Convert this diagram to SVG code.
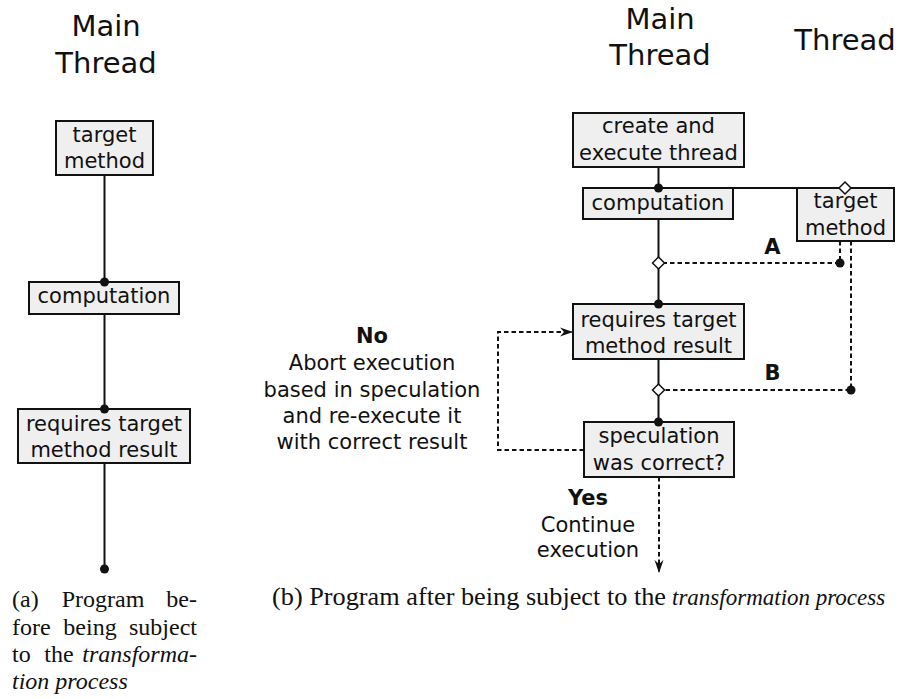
<svg xmlns="http://www.w3.org/2000/svg" width="899" height="699" viewBox="0 0 899 699">
  <defs>
    <style>
      .box { fill: #efefef; stroke: #111; stroke-width: 2; }
      .t { font-family: "DejaVu Sans", "Liberation Sans", sans-serif; font-size: 21px; fill: #111; text-anchor: middle; }
      .lbl { font-family: "DejaVu Sans", "Liberation Sans", sans-serif; font-size: 21px; font-weight: bold; fill: #111; text-anchor: middle; }
      .title { font-family: "DejaVu Sans", "Liberation Sans", sans-serif; font-size: 29px; fill: #111; text-anchor: middle; }
      .cap { font-family: "Liberation Serif", "DejaVu Serif", serif; font-size: 24px; fill: #111; }
      .capb { font-size: 25px; }
      .it { font-style: italic; }
      .mid { text-anchor: middle; }
      .end { text-anchor: end; }
      .solid { fill: none; stroke: #111; stroke-width: 2; }
      .dash { fill: none; stroke: #111; stroke-width: 2; stroke-dasharray: 4.5 3; }
      .dot { fill: #111; }
      .dia { fill: #fff; stroke: #111; stroke-width: 1.5; }
    </style>
    <marker id="arrow" markerUnits="userSpaceOnUse" markerWidth="16" markerHeight="12" refX="14" refY="6" orient="auto">
      <path d="M14,6 L1,1.5 L5,6 L1,10.5 Z" fill="#111"/>
    </marker>
  </defs>

  <!-- column titles -->
  <text class="title" x="106" y="36">Main</text>
  <text class="title" x="106" y="73">Thread</text>
  <text class="title" x="660" y="29">Main</text>
  <text class="title" x="660" y="65">Thread</text>
  <text class="title" x="845" y="50">Thread</text>

  <!-- (a) nodes -->
  <g id="a-target-method">
    <rect class="box" x="56" y="121" width="97" height="54"/>
    <text class="t" x="104.5" y="142">target</text>
    <text class="t" x="104.5" y="168">method</text>
  </g>
  <g id="a-computation">
    <rect class="box" x="29" y="282" width="150" height="32"/>
    <text class="t" x="104" y="303">computation</text>
  </g>
  <g id="a-requires">
    <rect class="box" x="18" y="409" width="172" height="54"/>
    <text class="t" x="104" y="430.5">requires target</text>
    <text class="t" x="104" y="456.5">method result</text>
  </g>

  <!-- (b) nodes -->
  <g id="b-create">
    <rect class="box" x="573" y="113" width="171" height="54"/>
    <text class="t" x="658.5" y="133">create and</text>
    <text class="t" x="658.5" y="160">execute thread</text>
  </g>
  <g id="b-computation">
    <rect class="box" x="583" y="188" width="150" height="31"/>
    <text class="t" x="658" y="210">computation</text>
  </g>
  <g id="b-target-method">
    <rect class="box" x="797" y="188" width="97" height="53"/>
    <text class="t" x="845.5" y="208">target</text>
    <text class="t" x="845.5" y="235">method</text>
  </g>
  <g id="b-requires">
    <rect class="box" x="573" y="304" width="171" height="55"/>
    <text class="t" x="658.5" y="327">requires target</text>
    <text class="t" x="658.5" y="353">method result</text>
  </g>
  <g id="b-speculation">
    <rect class="box" x="584" y="422" width="150" height="55"/>
    <text class="t" x="659" y="443">speculation</text>
    <text class="t" x="659" y="470">was correct?</text>
  </g>

  <!-- connectors, drawn over the box edges so dots and diamonds sit on top -->
  <g id="connectors">
    <!-- (a) single thread -->
    <line class="solid" x1="104.5" y1="175" x2="104.5" y2="282"/>
    <line class="solid" x1="104.5" y1="314" x2="104.5" y2="409"/>
    <line class="solid" x1="104.5" y1="463" x2="104.5" y2="569"/>
    <circle class="dot" cx="104.5" cy="282" r="4.5"/>
    <circle class="dot" cx="104.5" cy="409" r="4.5"/>
    <circle class="dot" cx="104.5" cy="569" r="4.5"/>

    <!-- (b) main thread -->
    <line class="solid" x1="658.5" y1="167" x2="658.5" y2="188"/>
    <line class="solid" x1="658.5" y1="188" x2="845" y2="188"/>
    <line class="solid" x1="658.5" y1="219" x2="658.5" y2="304"/>
    <line class="solid" x1="658.5" y1="359" x2="658.5" y2="422"/>
    <circle class="dot" cx="658.5" cy="188" r="4.5"/>
    <circle class="dot" cx="658.5" cy="304" r="4.5"/>
    <circle class="dot" cx="658.5" cy="422" r="4.5"/>

    <!-- joins from the spawned thread -->
    <path class="dash" d="M840,241 V263 H658.5"/>
    <path class="dash" d="M851,241 V390 H658.5"/>
    <circle class="dot" cx="840" cy="263" r="4.5"/>
    <circle class="dot" cx="851" cy="390" r="4.5"/>
    <path class="dia" d="M845,182 L851,188 L845,194 L839,188 Z"/>
    <path class="dia" d="M658.5,257 L664.5,263 L658.5,269 L652.5,263 Z"/>
    <path class="dia" d="M658.5,384 L664.5,390 L658.5,396 L652.5,390 Z"/>

    <!-- re-execution loop and continuation -->
    <path class="dash" d="M584,450 H498 V332 H573" marker-end="url(#arrow)"/>
    <line class="dash" x1="659" y1="477" x2="659" y2="573" marker-end="url(#arrow)"/>

    <text class="lbl" x="772.5" y="254">A</text>
    <text class="lbl" x="772.5" y="380">B</text>
  </g>

  <!-- outcome notes -->
  <g id="note-no">
    <text class="lbl" x="372" y="343">No</text>
    <text class="t" x="372" y="370">Abort execution</text>
    <text class="t" x="372" y="397">based in speculation</text>
    <text class="t" x="372" y="423">and re-execute it</text>
    <text class="t" x="372" y="449">with correct result</text>
  </g>
  <g id="note-yes">
    <text class="lbl" x="588" y="505">Yes</text>
    <text class="t" x="588" y="532">Continue</text>
    <text class="t" x="588" y="557">execution</text>
  </g>

  <!-- captions (justified: first word left, last word right, middle word centred in the gap) -->
  <g id="caption-a" class="cap">
    <text x="12" y="607">(a)</text>
    <text class="mid" x="103" y="607">Program</text>
    <text class="end" x="197" y="607">be-</text>
    <text x="12" y="635">fore</text>
    <text class="mid" x="90" y="635">being</text>
    <text class="end" x="197" y="635">subject</text>
    <text x="12" y="662">to</text>
    <text class="mid" x="59" y="662">the</text>
    <text class="it end" x="197" y="662">transforma-</text>
    <text class="it" x="12" y="689">tion process</text>
  </g>
  <g id="caption-b" class="cap capb">
    <text x="272" y="605" textLength="394" lengthAdjust="spacingAndGlyphs">(b) Program after being subject to the</text>
    <text class="it" x="672" y="605" font-size="23">transformation process</text>
  </g>
</svg>
